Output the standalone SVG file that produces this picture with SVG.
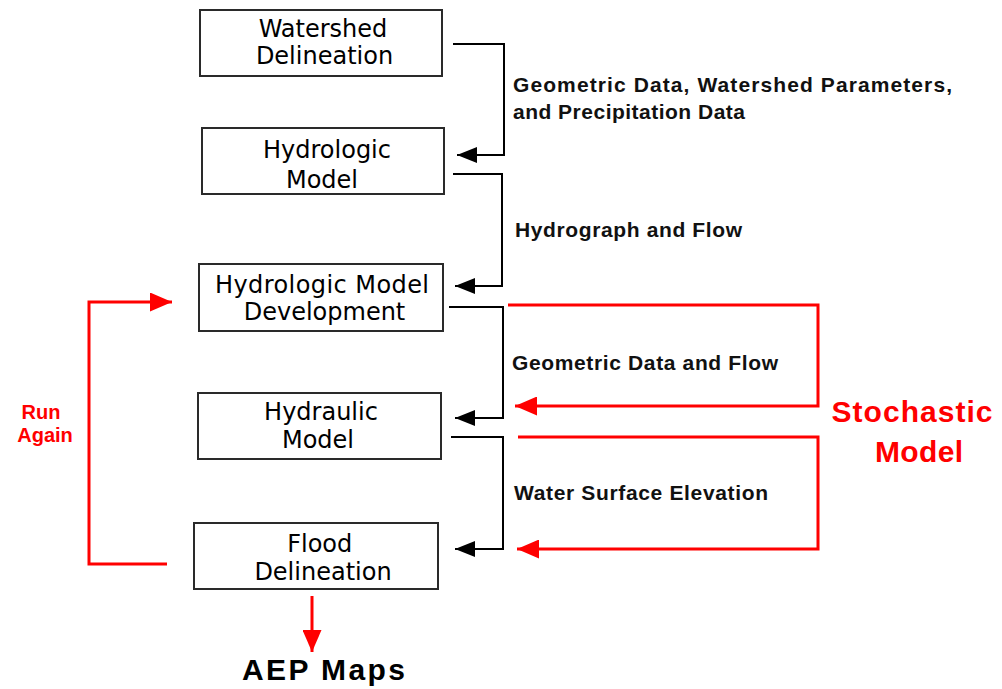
<svg xmlns="http://www.w3.org/2000/svg" width="1002" height="689" viewBox="0 0 1002 689">
<style>
.box{fill:#fff;stroke:#2a2a2a;stroke-width:2}
.bt{font-family:"DejaVu Sans",sans-serif;font-size:24px;fill:#000;text-anchor:middle}
.lbl{font-family:"Liberation Sans",Arial,sans-serif;font-weight:bold;font-size:21px;fill:#111}
.red{font-family:"Liberation Sans",Arial,sans-serif;font-weight:bold;fill:#ff0000;text-anchor:middle}
.cb{fill:none;stroke:#000;stroke-width:2}
.cr{fill:none;stroke:#ff0000;stroke-width:3}
</style>
<defs>
<marker id="ab" markerUnits="userSpaceOnUse" markerWidth="20" markerHeight="16" refX="20" refY="8" orient="auto">
<path d="M0,0 L20,8 L0,16 z" fill="#000"/>
</marker>
<marker id="ar" markerUnits="userSpaceOnUse" markerWidth="22" markerHeight="19" refX="22" refY="9.5" orient="auto">
<path d="M0,0 L22,9.5 L0,19 z" fill="#ff0000"/>
</marker>
</defs>
<rect width="1002" height="689" fill="#fff"/>

<g id="connectors">
<path class="cb" d="M453,44 H504 V155 H457" marker-end="url(#ab)"/>
<path class="cb" d="M453,174 H502 V286 H455" marker-end="url(#ab)"/>
<path class="cb" d="M449,307 H503 V418 H455" marker-end="url(#ab)"/>
<path class="cb" d="M451,437 H503 V549 H455" marker-end="url(#ab)"/>
<path class="cr" d="M508,305 H818 V406 H515" marker-end="url(#ar)"/>
<path class="cr" d="M518,437 H818 V549 H517" marker-end="url(#ar)"/>
<path class="cr" d="M167,564 H89 V302 H172" marker-end="url(#ar)"/>
<path class="cr" d="M312,596 V652" marker-end="url(#ar)"/>
<text class="lbl" x="513" y="92" textLength="439" lengthAdjust="spacing">Geometric Data, Watershed Parameters,</text>
<text class="lbl" x="513" y="119" textLength="232" lengthAdjust="spacing">and Precipitation Data</text>
<text class="lbl" x="515" y="237" textLength="227" lengthAdjust="spacing">Hydrograph and Flow</text>
<text class="lbl" x="512" y="370" textLength="266" lengthAdjust="spacing">Geometric Data and Flow</text>
<text class="lbl" x="514" y="500" textLength="254" lengthAdjust="spacing">Water Surface Elevation</text>
<text class="red" x="41" y="419" font-size="20">Run</text>
<text class="red" x="45" y="442" font-size="20">Again</text>
<text class="red" x="912" y="422" font-size="30" textLength="161" lengthAdjust="spacing">Stochastic</text>
<text class="red" x="919" y="462" font-size="30" textLength="88" lengthAdjust="spacing">Model</text>
<text x="323.5" y="680" font-family="Liberation Sans,Arial,sans-serif" font-weight="bold" font-size="30" text-anchor="middle" fill="#000" textLength="163" lengthAdjust="spacing">AEP Maps</text>
</g>

<g id="watershed">
<rect class="box" x="200" y="10" width="242" height="66"/>
<text class="bt" x="323" y="37">Watershed</text>
<text class="bt" x="324.5" y="64">Delineation</text>
</g>
<g id="hydrologic">
<rect class="box" x="202" y="128" width="242" height="66"/>
<text class="bt" x="327" y="158">Hydrologic</text>
<text class="bt" x="322" y="188">Model</text>
</g>
<g id="hydrologic-dev">
<rect class="box" x="199" y="264" width="244" height="67"/>
<text class="bt" x="322" y="293" textLength="214" lengthAdjust="spacing">Hydrologic Model</text>
<text class="bt" x="324.5" y="320">Development</text>
</g>
<g id="hydraulic">
<rect class="box" x="198" y="393" width="243" height="66"/>
<text class="bt" x="321" y="420">Hydraulic</text>
<text class="bt" x="318" y="448">Model</text>
</g>
<g id="flood">
<rect class="box" x="194" y="523" width="244" height="66"/>
<text class="bt" x="319.7" y="552">Flood</text>
<text class="bt" x="323" y="580">Delineation</text>
</g>
</svg>
